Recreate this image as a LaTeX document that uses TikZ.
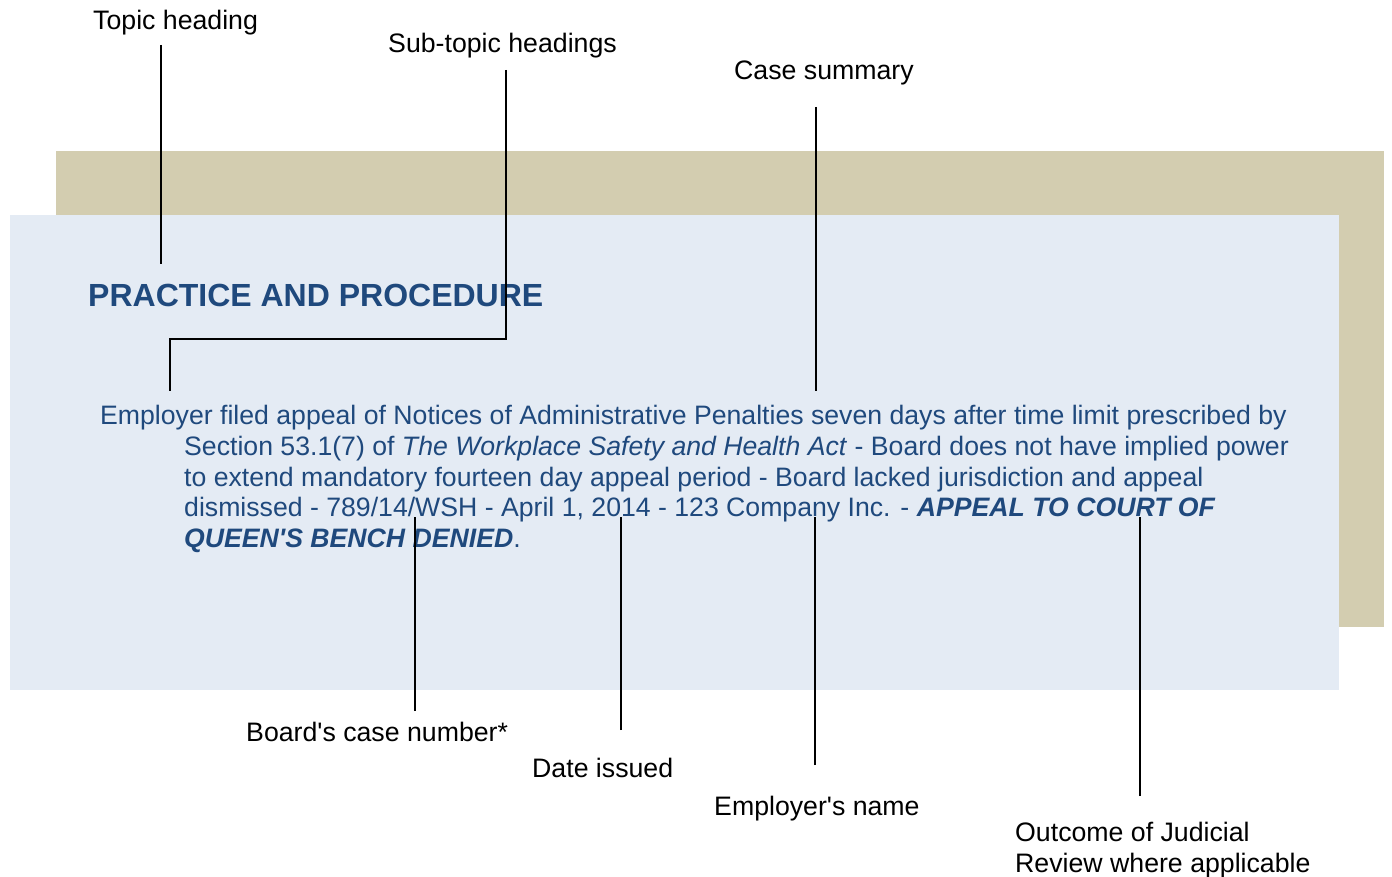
\documentclass[tikz,border=0pt]{standalone}
\usepackage{fontspec}
\setmainfont{Liberation Sans}
\definecolor{tan}{HTML}{D3CDB0}
\definecolor{paleblue}{HTML}{E4EBF4}
\definecolor{textblue}{HTML}{1F497D}
\begin{document}
\begin{tikzpicture}[x=1pt,y=-1pt,
  lead/.style={draw=black,line width=2pt},
  callout/.style={anchor=base west,inner sep=0pt,font=\fontsize{26.7}{31}\selectfont,text=black},
  bodyline/.style={anchor=base west,inner sep=0pt,font=\fontsize{26.65}{30.75}\selectfont,text=textblue},
  headline/.style={anchor=base west,inner sep=0pt,font=\fontsize{32}{36}\selectfont\bfseries,text=textblue}]
\useasboundingbox (0,0) rectangle (1392,877);
% panels
\fill[tan] (56,151) rectangle (1384,627);
\fill[paleblue] (10,215) rectangle (1339,690);
% heading and summary text
\node[headline] (head) at (88,306) {PRACTICE AND PROCEDURE};
\node[bodyline] (l1) at (100,424) {Employer filed appeal of Notices of Administrative Penalties seven days after time limit prescribed by};
\node[bodyline] (l2) at (184,455) {Section 53.1(7) of \textit{The Workplace Safety and Health Act} - Board does not have implied power};
\node[bodyline] (l3) at (184,486) {to extend mandatory fourteen day appeal period - Board lacked jurisdiction and appeal};
\node[bodyline] (l4) at (184,516) {dismissed - 789/14/WSH - April 1, 2014 - 123 Company Inc. - \textbf{\textit{APPEAL TO COURT OF}}};
\node[bodyline] (l5) at (184,547) {\textbf{\textit{QUEEN\textquotesingle S BENCH DENIED}}.};
% callout labels
\node[callout] (topic) at (93,30) {Topic heading};
\node[callout] (sub) at (388,53) {Sub-topic headings};
\node[callout] (summary) at (734,80) {Case summary};
\node[callout] (casenum) at (246,741) {Board\textquotesingle s case number*};
\node[callout] (date) at (532,777) {Date issued};
\node[callout] (employer) at (714,815) {Employer\textquotesingle s name};
\node[callout,align=left,anchor=north west] (outcome) at (1015,822) {Outcome of Judicial\\Review where applicable};
% connector end points
\coordinate (topicA) at (161,45);
\coordinate (topicB) at (161,264);
\coordinate (subA) at (506,70);
\coordinate (subB) at (170,391);
\coordinate (sumA) at (816,107);
\coordinate (sumB) at (816,391);
\coordinate (caseA) at (415,711);
\coordinate (caseB) at (415,517);
\coordinate (dateA) at (621,730);
\coordinate (dateB) at (621,517);
\coordinate (empA) at (815,765);
\coordinate (empB) at (815,517);
\coordinate (outA) at (1140,796);
\coordinate (outB) at (1140,517);
% connectors
\draw[lead] (topicA) -- (topicB);
\draw[lead] (subA) |- (170,339) -- (subB);
\draw[lead] (sumA) -- (sumB);
\draw[lead] (caseA) -- (caseB);
\draw[lead] (dateA) -- (dateB);
\draw[lead] (empA) -- (empB);
\draw[lead] (outA) -- (outB);
\end{tikzpicture}
\end{document}
